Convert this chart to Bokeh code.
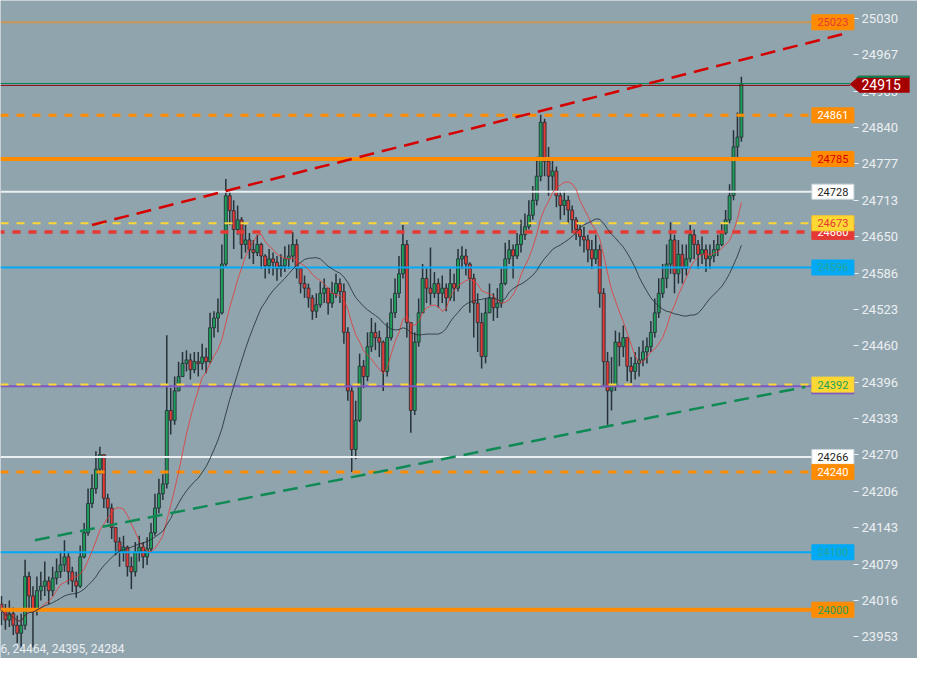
import pandas as pd
from bokeh.plotting import figure
from bokeh.models import Range1d, FixedTicker, Label, PolyAnnotation, ColumnDataSource
from bokeh.core.properties import value
from bokeh.embed import file_html
from bokeh.resources import INLINE

# ---------------- data ----------------
first_open = 24010
closes = [
    23999, 23982, 23993, 23973, 23959, 23973, 24058, 24024, 23999, 24033,
    24041, 24050, 24033, 24055, 24066, 24078, 24092, 24066, 24050, 24041,
    24092, 24134, 24185, 24211, 24245, 24270, 24194, 24177, 24143, 24118,
    24101, 24109, 24075, 24066, 24101, 24109, 24092, 24106, 24134, 24177,
    24202, 24219, 24347, 24330, 24381, 24406, 24429, 24435, 24418, 24432,
    24429, 24440, 24432, 24491, 24508, 24517, 24602, 24721, 24695, 24662,
    24679, 24636, 24644, 24627, 24622, 24636, 24616, 24599, 24611, 24605,
    24594, 24599, 24611, 24616, 24636, 24594, 24568, 24560, 24543, 24520,
    24531, 24551, 24560, 24534, 24551, 24568, 24554, 24483, 24381, 24279,
    24330, 24424, 24406, 24458, 24483, 24474, 24466, 24415, 24474, 24517,
    24551, 24585, 24636, 24500, 24347, 24466, 24517, 24577, 24560, 24551,
    24568, 24551, 24560, 24543, 24568, 24560, 24611, 24616, 24602, 24577,
    24534, 24500, 24441, 24517, 24543, 24526, 24534, 24568, 24611, 24627,
    24616, 24636, 24653, 24667, 24687, 24713, 24755, 24849, 24781, 24755,
    24764, 24721, 24704, 24713, 24696, 24679, 24662, 24650, 24644, 24627,
    24611, 24627, 24551, 24432, 24381, 24390, 24466, 24458, 24474, 24424,
    24415, 24429, 24435, 24449, 24458, 24483, 24517, 24551, 24577, 24602,
    24644, 24585, 24619, 24594, 24611, 24653, 24636, 24619, 24627, 24611,
    24616, 24627, 24636, 24656, 24679, 24721, 24806, 24823, 24916,
]
highs = [
    24024, 24010, 24016, 24004, 23990, 23993, 24087, 24066, 24041, 24058,
    24066, 24084, 24058, 24075, 24089, 24101, 24121, 24101, 24075, 24066,
    24112, 24151, 24211, 24236, 24276, 24284, 24270, 24202, 24185, 24143,
    24126, 24129, 24112, 24092, 24118, 24129, 24118, 24126, 24151, 24202,
    24228, 24236, 24478, 24386, 24406, 24432, 24449, 24452, 24446, 24449,
    24449, 24463, 24456, 24517, 24520, 24542, 24636, 24750, 24730, 24713,
    24704, 24684, 24670, 24656, 24644, 24653, 24639, 24619, 24628, 24622,
    24616, 24619, 24633, 24636, 24658, 24645, 24594, 24582, 24568, 24548,
    24551, 24571, 24577, 24560, 24571, 24585, 24577, 24568, 24492, 24390,
    24364, 24446, 24435, 24483, 24508, 24500, 24486, 24469, 24500, 24542,
    24577, 24616, 24670, 24644, 24500, 24483, 24542, 24602, 24594, 24631,
    24588, 24577, 24582, 24568, 24594, 24585, 24628, 24633, 24628, 24605,
    24585, 24551, 24517, 24542, 24568, 24551, 24560, 24594, 24639, 24644,
    24636, 24656, 24679, 24690, 24713, 24738, 24789, 24862, 24855, 24806,
    24786, 24772, 24730, 24730, 24721, 24704, 24684, 24670, 24667, 24653,
    24644, 24653, 24636, 24560, 24449, 24440, 24486, 24483, 24495, 24474,
    24440, 24449, 24458, 24469, 24474, 24503, 24542, 24577, 24602, 24636,
    24675, 24653, 24644, 24636, 24636, 24670, 24662, 24644, 24650, 24636,
    24636, 24644, 24653, 24673, 24696, 24741, 24835, 24866, 24928,
]
lows = [
    23973, 23965, 23970, 23956, 23942, 23934, 23965, 23999, 23934, 23990,
    24016, 24024, 24010, 24024, 24044, 24055, 24066, 24044, 24031, 24021,
    24038, 24089, 24129, 24177, 24202, 24236, 24177, 24151, 24123, 24095,
    24075, 24084, 24058, 24036, 24058, 24084, 24072, 24078, 24101, 24129,
    24168, 24191, 24211, 24305, 24322, 24381, 24406, 24415, 24401, 24412,
    24406, 24418, 24412, 24429, 24474, 24483, 24514, 24598, 24670, 24628,
    24653, 24611, 24622, 24611, 24602, 24616, 24594, 24577, 24585, 24582,
    24573, 24580, 24588, 24594, 24605, 24577, 24551, 24543, 24526, 24505,
    24508, 24526, 24534, 24514, 24526, 24543, 24534, 24463, 24364, 24240,
    24262, 24327, 24386, 24398, 24449, 24452, 24440, 24381, 24406, 24469,
    24508, 24543, 24577, 24474, 24308, 24339, 24458, 24517, 24534, 24531,
    24543, 24526, 24534, 24520, 24538, 24537, 24554, 24594, 24582, 24517,
    24474, 24449, 24420, 24429, 24517, 24503, 24508, 24526, 24565, 24602,
    24577, 24611, 24622, 24644, 24662, 24679, 24704, 24746, 24755, 24721,
    24730, 24701, 24679, 24687, 24673, 24656, 24644, 24633, 24622, 24605,
    24594, 24602, 24526, 24390, 24322, 24347, 24381, 24424, 24440, 24398,
    24395, 24401, 24406, 24424, 24429, 24449, 24474, 24508, 24543, 24560,
    24585, 24551, 24568, 24568, 24582, 24605, 24611, 24594, 24602, 24588,
    24594, 24605, 24616, 24633, 24653, 24673, 24713, 24784, 24815,
]

fast_period = 10
slow_period = 25

y_ticks = [23953, 24016, 24079, 24143, 24206, 24270, 24333, 24396, 24460,
           24523, 24586, 24650, 24713, 24777, 24840, 24903, 24967, 25030]

levels = [25023, 24861, 24785, 24728, 24658, 24673, 24596, 24389, 24392, 24266, 24240, 24100, 24000]
level_labels = ["25023", "24861", "24785", "24728", "24660", "24673", "24596", "", "24392",
                "24266", "24240", "24100", "24000"]
last_price = 24915
ohlc_text = "6, 24464, 24395, 24284"

red_trend_x = [23.0, 215.25]
red_trend_y = [24670, 25005]
green_trend_x = [8.5, 204.25]
green_trend_y = [24121, 24388]

# ---------------- styles / layout ----------------
BG = "#90a4ae"
ORANGE = "#ff8c00"
YELLOW = "#fdd835"
RED = "#e53935"
BLUE = "#03a9f4"
WHITE = "#eceff1"
PURPLE = "#7e57c2"
GREEN = "#1e9e5a"
TEAL = "#26a69a"
DARK = "#263238"

level_style = {
    25023: dict(line_color=ORANGE, line_alpha=0.5, line_width=2),
    24861: dict(line_color=ORANGE, line_width=3, line_dash="8 8"),
    24785: dict(line_color=ORANGE, line_width=4),
    24728: dict(line_color=WHITE, line_width=2),
    24658: dict(line_color=RED, line_width=3.5, line_dash="8 8", line_dash_offset=4),
    24673: dict(line_color=YELLOW, line_width=2, line_dash="8 8"),
    24596: dict(line_color=BLUE, line_width=2),
    24389: dict(line_color=PURPLE, line_width=2),
    24392: dict(line_color=YELLOW, line_width=2, line_dash="8 8"),
    24266: dict(line_color=WHITE, line_width=2),
    24240: dict(line_color=ORANGE, line_width=3, line_dash="8 8"),
    24100: dict(line_color=BLUE, line_width=2),
    24000: dict(line_color=ORANGE, line_width=4),
}
box_style = {
    25023: (ORANGE, ORANGE, RED),
    24861: (ORANGE, ORANGE, "#ffffff"),
    24785: (ORANGE, ORANGE, "#d50000"),
    24728: ("#ffffff", "#cfd8dc", "#212121"),
    24658: (RED, RED, "#ffffff"),
    24673: (YELLOW, "#f9c825", RED),
    24596: (BLUE, BLUE, TEAL),
    24389: (PURPLE, PURPLE, PURPLE),
    24392: (YELLOW, YELLOW, GREEN),
    24266: ("#ffffff", "#cfd8dc", "#212121"),
    24240: (ORANGE, ORANGE, "#ffffff"),
    24100: (BLUE, BLUE, TEAL),
    24000: (ORANGE, ORANGE, GREEN),
}

W, H = 917, 658
X0, X1 = -0.25, 232.75          # bar-index range covering the whole canvas
Y0, Y1 = 23915, 25061
AXIS_X = 216.5                  # where the price scale sits
LX = 211.25                     # centre of the price boxes
ppu_x = W / (X1 - X0)
ppu_y = H / (Y1 - Y0)

p = figure(width=W, height=H, x_range=Range1d(X0, X1), y_range=Range1d(Y0, Y1),
           output_backend="svg", toolbar_location=None,
           x_axis_location=None, y_axis_location="right",
           background_fill_color=BG, border_fill_color=BG,
           min_border_left=0, min_border_top=0, min_border_bottom=0, min_border_right=0)
p.grid.visible = False
p.outline_line_color = None

ax = p.yaxis[0]
ax.fixed_location = AXIS_X
ax.ticker = FixedTicker(ticks=y_ticks)
ax.major_label_text_font = "Roboto"
ax.major_label_text_font_size = "13px"
ax.major_label_text_color = "#eceff1"
ax.major_tick_line_color = "#eceff1"
ax.major_tick_out = 5
ax.major_tick_in = 0
ax.minor_tick_line_color = None
ax.axis_line_color = None
ax.major_label_standoff = 3

# candles
idx = list(range(len(closes)))
opens = [first_open] + closes[:-1]
up = [c >= o for o, c in zip(opens, closes)]
src = ColumnDataSource(dict(
    x=idx, high=highs, low=lows,
    top=[max(o, c) for o, c in zip(opens, closes)],
    bottom=[min(o, c) for o, c in zip(opens, closes)],
    color=[GREEN if u else RED for u in up],
))
p.segment(x0="x", y0="low", x1="x", y1="high", source=src, line_color=DARK, line_width=1.5)
p.vbar(x="x", width=0.75, top="top", bottom="bottom", source=src,
       fill_color="color", line_color=DARK, line_width=0.9)

# horizontal levels, ending at their price boxes
for lv in levels:
    p.segment(x0=[X0], x1=[LX], y0=[lv], y1=[lv], **level_style[lv])
# last-price lines run to the tag
p.segment(x0=[X0], x1=[215.6], y0=[last_price + 1.5], y1=[last_price + 1.5],
          line_color="#00875a", line_width=1)
p.segment(x0=[X0], x1=[215.6], y0=[last_price - 1.8], y1=[last_price - 1.8],
          line_color="#8b0000", line_width=1)

s = pd.Series(closes, dtype=float)
fast = s.rolling(fast_period, min_periods=1).mean()
slow = s.rolling(slow_period, min_periods=1).mean()
p.line(idx, list(fast), line_color=RED, line_width=1, line_alpha=0.8)
p.line(idx, list(slow), line_color=DARK, line_width=1, line_alpha=0.85)

# trend lines
p.line(red_trend_x, red_trend_y, line_color="#d50000", line_width=2.5, line_dash="15 8")
p.line(green_trend_x, green_trend_y, line_color="#0f8a55", line_width=2.5, line_dash="15 8")

# price boxes
for lv, txt in zip(levels, level_labels):
    fill, border, tcol = box_style[lv]
    r = p.rect(x=[LX], y=[lv], width=42, height=15, width_units="screen",
               height_units="screen", fill_color=fill, line_color=border, line_width=1)
    r.level = "overlay"
    if txt:
        t = p.text(x=[LX], y=[lv], text=[txt], text_align="center", text_baseline="middle",
                   text_font=value("Roboto"), text_font_size="11px", text_color=tcol)
        t.level = "overlay"

# last price tag
tip, bl, br = 215.5, 218.0, 230.75
top = last_price + 8.5 / ppu_y
bot = last_price - 8.5 / ppu_y
p.add_layout(PolyAnnotation(xs=[tip, bl, br, br, bl], ys=[last_price, top, top, bot, bot],
                            fill_color="#a50000", fill_alpha=1, line_color=None, level="overlay"))
p.add_layout(PolyAnnotation(xs=[bl - 0.3, br, br, bl - 1.0],
                            ys=[top, top, top - 2 / ppu_y, top - 2 / ppu_y],
                            fill_color="#00875a", fill_alpha=1, line_color=None, level="overlay"))
p.add_layout(Label(x=223.5, y=last_price, text=str(last_price), text_align="center",
                   text_baseline="middle", text_font="Roboto", text_font_size="14px",
                   text_color="#ffffff", level="overlay"))

# bottom-left OHLC text
bt = p.text(x=[X0], y=[Y0 + 10 / ppu_y], text=[ohlc_text], text_align="left",
            text_baseline="middle", text_font=value("Roboto"), text_font_size="12px",
            text_color="#eceff1")
bt.level = "overlay"

open("out.html", "w").write(file_html(p, INLINE))
